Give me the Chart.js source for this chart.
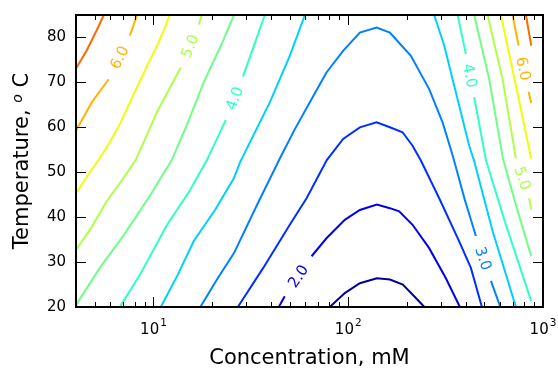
<!DOCTYPE html>
<html>
<head>
<meta charset="utf-8">
<script src="https://cdn.jsdelivr.net/npm/chart.js@4.4.1/dist/chart.umd.min.js"></script>
<style>
  html, body { margin: 0; padding: 0; background: #fff; }
</style>
</head>
<body>
<canvas id="chart" width="558" height="368"></canvas>
<script>
// axis ticks
const xTicksMajor = [10, 100, 1000];
const xTicksMinor = [5, 6, 7, 8, 9, 20, 30, 40, 50, 60, 70, 80, 90, 200, 300, 400, 500, 600, 700, 800, 900];
const yTicks = [20, 30, 40, 50, 60, 70, 80];

// contour lines: [concentration mM, temperature C], null = gap left for the inline label
const c15 = [[80.4,20],[96.0,23.1],[114.7,25.3],[140.3,26.4],[163.6,26.1],[190.7,25.0],[222.4,22.0],[246.0,20]];
const c20 = [[44.0,20],[47.2,22.4],null,[64.8,31.3],[77.3,35.3],[96.0,39.4],[114.7,41.6],[140.3,42.8],[163.6,42.0],[182.6,41.3],[213.9,38.3],[260.3,33.1],[317.2,26.4],[374.3,20]];
const c25 = [[27.1,20],[36.6,28.7],[50.1,38.3],[61.1,44.2],[77.6,52.7],[94.1,57.4],[114.7,60.0],[139.8,61.1],[163.6,60.0],[190.0,58.9],[213.9,55.9],[236.0,52.6],[293.1,44.2],[371.2,34.6],[426.3,28.7],[485.7,20]];
const c30 = [[17.4,20],[21.1,26.0],[25.9,32.0],[33.9,42.6],[44.6,53.1],[53.2,59.6],[63.5,65.6],[77.3,72.2],[94.1,77.0],[114.7,81.1],[139.8,82.2],[163.6,81.1],[175.6,79.6],[209.7,75.9],[260.3,68.5],[305.1,61.1],[343.4,53.8],[397.1,43.8],[452.3,35.8],null,[540.1,25.8],[604.1,20]];
const c35a = [[10.9,20],[13.3,27.1],[16.1,34.7],[20.7,41.6],[25.9,48.7],[27.8,52.2],[39.6,65.6],[50.1,75.9],[59.9,85]];
const c35b = [[276.2,85],[311.0,78.2],[343.4,70.7],[378.8,63.3],[417.8,55.9],[441.7,52.7],[551.0,36.9],[726.0,20]];
const c40a = [[6.71,20],[8.5,27.1],[11.7,38.2],[15.4,46.0],[18.8,52.7],[23.5,61.6],null,[28.8,71.3],[32.7,78.0],[37.3,85]];
const c40b = [[364.3,85],[401.8,76.3],null,[443.3,66.7],[509.1,52.7],[644.9,38.3],[870,21.3]];
const c45a = [[4.0,20.4],[5.3,28.7],[7.04,36.0],[9.57,44.7],[12.4,52.7],[14.8,60.4],[18.1,70.0],[22.2,78.2],[25.9,85]];
const c45b = [[443.3,85],[529.3,70.7],[622.3,53.1],[726.0,42.7],[870,31.3]];
const c50a = [[4.0,32.7],[4.71,37.1],[5.76,43.6],[6.88,48.2],[8.11,52.7],[10.4,63.3],[13.8,73.3],null,[17.1,82.9],[17.7,85]];
const c50b = [[519.4,85],[620.1,70.7],[726.0,53.1],null,[849.4,44.2],[870,41.7]];
const c55a = [[4.0,45.3],[4.71,50.0],[5.3,53.1],[5.97,56.7],[6.79,61.1],[7.64,66.0],[8.61,70.7],[9.57,74.9],[10.5,78.4],[11.4,82.0],[12.1,85]];
const c55b = [[607.8,85],[726.0,69.3],[870,53.0]];
const c60a = [[4.0,59.3],[4.83,65.6],[5.89,70.7],null,[7.56,80.4],[8.24,85]];
const c60b = [[698.2,85],[749.1,78.2],null,[843.4,67.9],[870,65.4]];
const c65a = [[4.0,73.1],[4.54,77.1],[5.11,81.6],[5.56,85]];
const c65b = [[817.0,85],[870,78.2]];

const contours = [
  [1.5, [c15]], [2.0, [c20]], [2.5, [c25]], [3.0, [c30]],
  [3.5, [c35a, c35b]], [4.0, [c40a, c40b]], [4.5, [c45a, c45b]],
  [5.0, [c50a, c50b]], [5.5, [c55a, c55b]], [6.0, [c60a, c60b]], [6.5, [c65a, c65b]],
];

// jet colormap
const colorMin = 1.4, colorMax = 7.8;
function seg(t, pts) {
  for (let i = 1; i < pts.length; i++) {
    if (t <= pts[i][0]) {
      const [t0, v0] = pts[i-1], [t1, v1] = pts[i];
      return v0 + (v1 - v0) * (t - t0) / (t1 - t0);
    }
  }
  return pts[pts.length-1][1];
}
function jet(v) {
  const t = Math.max(0, Math.min(1, (v - colorMin) / (colorMax - colorMin)));
  const r = seg(t, [[0,0],[0.35,0],[0.66,1],[0.89,1],[1,0.5]]);
  const g = seg(t, [[0,0],[0.125,0],[0.375,1],[0.64,1],[0.91,0],[1,0]]);
  const b = seg(t, [[0,0.5],[0.11,1],[0.34,1],[0.65,0],[1,0]]);
  return `rgb(${Math.round(r*255)},${Math.round(g*255)},${Math.round(b*255)})`;
}

const datasets = [];
contours.forEach(([level, lines]) => {
  lines.forEach(line => {
    datasets.push({
      level,
      data: line.map(p => p ? { x: p[0], y: p[1] } : { x: null, y: null }),
      borderColor: jet(level),
      borderWidth: 2,
      pointRadius: 0,
      showLine: true,
      tension: 0,
      spanGaps: false,
    });
  });
});

const FONT = '"DejaVu Sans", "Liberation Sans", sans-serif';
Chart.defaults.font.family = FONT;

// labels, frame, inward ticks, titles
const decor = {
  id: 'decor',
  afterDatasetsDraw(chart) {
    const ctx = chart.ctx;
    const { left, right, top, bottom } = chart.chartArea;
    const xs = chart.scales.x, ys = chart.scales.y;

    // inline contour labels
    chart.data.datasets.forEach((ds, i) => {
      const meta = chart.getDatasetMeta(i);
      ds.data.forEach((p, k) => {
        if (p.y !== null || k === 0 || k === ds.data.length - 1) return;
        const a = meta.data[k-1], b = meta.data[k+1];
        let ang = Math.atan2(b.y - a.y, b.x - a.x);
        if (ang > Math.PI/2) ang -= Math.PI;
        if (ang < -Math.PI/2) ang += Math.PI;
        ctx.save();
        ctx.translate((a.x + b.x) / 2, (a.y + b.y) / 2);
        ctx.rotate(ang);
        ctx.font = `15px ${FONT}`;
        ctx.fillStyle = ds.borderColor;
        ctx.textAlign = 'center';
        ctx.textBaseline = 'middle';
        ctx.fillText(ds.level.toFixed(1), 0, 1);
        ctx.restore();
      });
    });

    ctx.save();
    ctx.strokeStyle = '#000';
    ctx.lineWidth = 1;
    ctx.beginPath();
    const tick = (x1, y1, x2, y2) => { ctx.moveTo(x1, y1); ctx.lineTo(x2, y2); };
    yTicks.forEach(v => {
      const py = Math.round(ys.getPixelForValue(v)) + 0.5;
      tick(left, py, left + 10, py);
      tick(right, py, right - 10, py);
    });
    xTicksMajor.forEach(v => {
      const px = Math.round(xs.getPixelForValue(v)) + 0.5;
      tick(px, bottom, px, bottom - 10);
      tick(px, top, px, top + 10);
    });
    xTicksMinor.forEach(v => {
      const px = Math.round(xs.getPixelForValue(v)) + 0.5;
      tick(px, bottom, px, bottom - 5);
      tick(px, top, px, top + 5);
    });
    ctx.stroke();

    ctx.lineWidth = 2;
    ctx.strokeRect(left, top, right - left, bottom - top);

    // x tick labels as 10^n
    ctx.fillStyle = '#000';
    ctx.textAlign = 'left';
    ctx.textBaseline = 'alphabetic';
    xTicksMajor.forEach(v => {
      const px = xs.getPixelForValue(v);
      const sup = String(Math.round(Math.log10(v)));
      ctx.font = `15px ${FONT}`;
      const w1 = ctx.measureText('10').width;
      ctx.font = `10.5px ${FONT}`;
      const w2 = ctx.measureText(sup).width;
      const x0 = px - (w1 + w2 + 1) / 2;
      ctx.font = `15px ${FONT}`;
      ctx.fillText('10', x0, bottom + 27);
      ctx.font = `10.5px ${FONT}`;
      ctx.fillText(sup, x0 + w1 + 1, bottom + 19);
    });

    // x title
    ctx.font = `21px ${FONT}`;
    ctx.textAlign = 'center';
    ctx.fillText('Concentration, mM', (left + right) / 2, 364);

    // y title with raised italic o
    const parts = [
      ['Temperature, ', `21px ${FONT}`, 0],
      ['o', `italic 14px ${FONT}`, -6],
      [' C', `21px ${FONT}`, 0],
    ];
    const widths = parts.map(([t, f]) => { ctx.font = f; return ctx.measureText(t).width; });
    const total = widths.reduce((s, w) => s + w, 0);
    ctx.translate(28, (top + bottom) / 2);
    ctx.rotate(-Math.PI / 2);
    ctx.textAlign = 'left';
    let cx = -total / 2;
    parts.forEach(([t, f, dy], i) => {
      ctx.font = f;
      ctx.fillText(t, cx, dy);
      cx += widths[i];
    });
    ctx.restore();
  }
};

new Chart(document.getElementById('chart'), {
  type: 'scatter',
  data: { datasets },
  options: {
    responsive: false,
    animation: false,
    devicePixelRatio: 1,
    layout: { padding: { top: 15, right: 15, left: 0, bottom: 0 } },
    plugins: { legend: { display: false }, tooltip: { enabled: false } },
    scales: {
      x: {
        type: 'logarithmic', min: 4, max: 1000,
        grid: { display: false, drawTicks: false },
        border: { display: false },
        ticks: { display: false },
        afterFit: s => { s.height = 61; s.paddingLeft = 0; s.paddingRight = 0; },
      },
      y: {
        type: 'linear', min: 20, max: 85,
        grid: { display: false, drawTicks: false },
        border: { display: false },
        ticks: { color: '#000', font: { size: 15 }, padding: 10 },
        afterBuildTicks: s => { s.ticks = yTicks.map(v => ({ value: v })); },
        afterFit: s => { s.width = 76; s.paddingTop = 0; s.paddingBottom = 0; },
      }
    }
  },
  plugins: [decor]
});
</script>
</body>
</html>
